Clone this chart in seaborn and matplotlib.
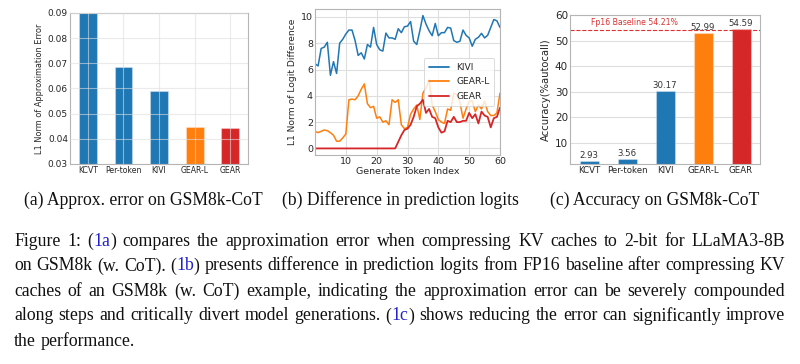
import numpy as np
import pandas as pd
import matplotlib
matplotlib.use("Agg")
import matplotlib.pyplot as plt
import seaborn as sns

# ---------------- data ----------------
methods = ["KCVT", "Per-token", "KIVI", "GEAR-L", "GEAR"]
approx_error = [0.092, 0.0687, 0.0590, 0.0449, 0.0442]
accuracy = [2.93, 3.56, 30.17, 52.99, 54.59]
baseline_acc = 54.21
bar_colors = ["#1f77b4", "#1f77b4", "#1f77b4", "#ff7f0e", "#d62728"]

token_index = list(range(0, 61))
kivi = [6.44, 6.27, 7.6, 7.7, 8.07, 5.56, 6.6, 5.7, 8.0, 8.3,
        8.7, 9.0, 9.0, 8.2, 7.07, 7.27, 6.8, 7.9, 7.7, 9.2,
        7.9, 7.5, 7.4, 8.77, 8.4, 8.4, 8.3, 9.1, 8.8, 9.25,
        9.3, 9.65, 8.15, 7.9, 8.95, 10.1, 9.45, 8.95, 8.57, 9.5,
        8.57, 8.8, 8.8, 9.2, 9.15, 8.2, 8.07, 8.15, 9.0, 8.6,
        8.4, 7.77, 8.3, 8.45, 8.75, 8.4, 8.6, 9.2, 9.8, 9.7, 9.2]
gear_l = [1.3, 1.2, 1.3, 1.4, 1.35, 1.2, 1.0, 0.55, 0.55, 0.8,
          1.1, 3.7, 3.75, 3.7, 4.0, 4.5, 4.9, 3.4, 3.1, 3.2,
          2.3, 2.4, 2.0, 2.1, 1.8, 3.7, 3.5, 3.7, 1.8, 1.5,
          1.6, 2.6, 3.0, 3.3, 2.2, 4.2, 4.6, 5.2, 3.3, 2.8,
          2.2, 2.0, 1.9, 3.0, 2.9, 4.2, 4.1, 3.5, 2.3, 3.0,
          3.6, 3.6, 2.8, 3.3, 3.0, 3.6, 2.8, 2.5, 2.5, 2.7, 4.2]
gear = [0, 0, 0, 0, 0, 0, 0, 0, 0, 0,
        0, 0, 0, 0, 0, 0, 0, 0, 0, 0,
        0, 0, 0, 0, 0, 0, 0, 0.5, 1.0, 1.4,
        1.5, 1.8, 2.4, 3.2, 3.4, 3.7, 2.7, 3.0, 2.4, 2.3,
        1.6, 1.2, 1.3, 2.1, 2.0, 2.4, 2.0, 2.0, 2.1, 2.1,
        2.7, 2.3, 2.6, 1.9, 2.8, 2.5, 2.4, 1.6, 2.3, 2.4, 3.1]
line_names = ["KIVI", "GEAR-L", "GEAR"]
line_colors = ["#1f77b4", "#ff7f0e", "#d62728"]

sub_captions = ["(a) Approx. error on GSM8k-CoT",
                "(b) Difference in prediction logits",
                "(c) Accuracy on GSM8k-CoT"]
caption_lines = [
    "Figure 1: ([1a]) compares the approximation error when compressing KV caches to 2-bit for LLaMA3-8B",
    "on GSM8k (w. CoT). ([1b]) presents difference in prediction logits from FP16 baseline after compressing KV",
    "caches of an GSM8k (w. CoT) example, indicating the approximation error can be severely compounded",
    "along steps and critically divert model generations. ([1c]) shows reducing the error can significantly improve",
    "the performance.",
]

# ---------------- style ----------------
sns.set_style("whitegrid", {"grid.color": "#dedede", "axes.edgecolor": "#b5b5b5",
                            "axes.linewidth": 1.0})
plt.rcParams["font.family"] = ["DejaVu Sans"]

W, H = 800, 364
fig = plt.figure(figsize=(8, 3.64), dpi=100)


def box(l, t, r, b):
    return [l / W, 1 - b / H, (r - l) / W, (b - t) / H]


# ---------------- (a) ----------------
ax1 = fig.add_axes(box(70, 13, 248, 164))
sns.barplot(x=methods, y=approx_error, hue=methods, palette=bar_colors, legend=False,
            width=0.5, saturation=1, ax=ax1, edgecolor=(1, 1, 1, 0.3), linewidth=0.8)
ax1.set_ylim(0.03, 0.09)
ax1.set_xlim(-0.5, 4.5)
ax1.set_yticks([0.03, 0.04, 0.05, 0.06, 0.07, 0.08, 0.09])
ax1.tick_params(axis="y", labelsize=6.5, pad=1.5, length=0)
ax1.tick_params(axis="x", labelsize=5.6, pad=1.5, length=0)
ax1.set_ylabel("L1 Norm of Approximation Error", fontsize=5.9, labelpad=3)
ax1.set_xlabel("")
ax1.set_axisbelow(False)
ax1.grid(True, color="#dedede", alpha=0.6)

# ---------------- (b) ----------------
ax2 = fig.add_axes(box(315, 9, 500, 155))
df = pd.DataFrame({
    "Token": token_index * 3,
    "Value": kivi + gear_l + gear,
    "Method": sum([[n] * len(token_index) for n in line_names], []),
})
sns.lineplot(data=df, x="Token", y="Value", hue="Method", palette=line_colors,
             hue_order=line_names, linewidth=1.1, ax=ax2)
ax2.lines[2].set_linewidth(1.3)
ax2.set_xlim(0, 60)
ax2.set_ylim(-0.5, 10.6)
ax2.set_xticks([10, 20, 30, 40, 50, 60])
ax2.set_yticks([0, 2, 4, 6, 8, 10])
ax2.tick_params(labelsize=6.8, pad=1.5, length=0)
ax2.set_xlabel("Generate Token Index", fontsize=6.8, labelpad=1)
ax2.set_ylabel("L1 Norm of Logit Difference", fontsize=6.6, labelpad=3)
leg = ax2.legend(loc="center right", bbox_to_anchor=(0.97, 0.5), fontsize=6.6,
                 frameon=True, borderaxespad=0, handlelength=2.2, labelspacing=0.6,
                 borderpad=0.55)
leg.get_frame().set_linewidth(0.6)
for h in leg.get_lines():
    h.set_linewidth(1.3)

# ---------------- (c) ----------------
ax3 = fig.add_axes(box(570, 15, 760, 164))
sns.barplot(x=methods, y=accuracy, hue=methods, palette=bar_colors, legend=False,
            width=0.5, saturation=1, ax=ax3, edgecolor=(1, 1, 1, 0.3), linewidth=0.8)
ax3.set_ylim(1.8, 60)
ax3.set_xlim(-0.5, 4.5)
ax3.set_yticks([10, 20, 30, 40, 50, 60])
ax3.tick_params(axis="y", labelsize=7.5, pad=1.5, length=0)
ax3.tick_params(axis="x", labelsize=6.2, pad=1.5, length=0)
ax3.set_ylabel("Accuracy(%autocall)", fontsize=7.2, labelpad=3)
ax3.set_xlabel("")
for i, v in enumerate(accuracy):
    ax3.text(i, v + 0.5, f"{v:.2f}", ha="center", va="bottom", fontsize=6.2, color="#333333")
ax3.axhline(baseline_acc, color="#e03030", linestyle="--", linewidth=0.8)
ax3.text(1.2, baseline_acc + 1.0, f"Fp16 Baseline {baseline_acc:.2f}%", ha="center",
         va="bottom", fontsize=5.6, color="#e03030")

# ---------------- captions ----------------
serif = ["Liberation Serif", "DejaVu Serif"]
fig.canvas.draw()
renderer = fig.canvas.get_renderer()


def width_of(s, size):
    t = fig.text(0, 0, s, fontsize=size, family=serif)
    w = t.get_window_extent(renderer).width
    t.remove()
    return w


# fit sub-caption size to the width of "(a) ..." in the reference (about 243 px)
sub_size = 12 * 240 / width_of(sub_captions[0], 12)
sub_x = [143.5, 400, 654.5]
for txt, cx in zip(sub_captions, sub_x):
    fig.text(cx / W, 1 - 200 / H, txt, ha="center", va="center", fontsize=sub_size,
             family=serif, color="#111111")

# fit caption size so that the widest justified line fits in about 771 px
plain = [l.replace("[", "").replace("]", "") for l in caption_lines[:-1]]
widest = max(width_of(p, 12) for p in plain)
cap_size = 12 * 768 / widest
blue = "#2222cc"


def parse_word(w):
    segs = []
    while w:
        if "[" in w:
            a = w.index("[")
            b = w.index("]")
            if a > 0:
                segs.append((w[:a], "#111111"))
            segs.append((w[a + 1:b], blue))
            w = w[b + 1:]
        else:
            segs.append((w, "#111111"))
            w = ""
    return segs


sw = width_of("a a", cap_size) - width_of("aa", cap_size)
x0, x1 = 14, 785
for li, line in enumerate(caption_lines):
    y = 1 - (241 + 25 * li) / H
    words = [parse_word(w) for w in line.split(" ")]
    objs = []
    widths = []
    for segs in words:
        wobj = []
        ww = 0
        for s, c in segs:
            t = fig.text(0, y, s, ha="left", va="center", fontsize=cap_size,
                         family=serif, color=c)
            wd = t.get_window_extent(renderer).width
            wobj.append((t, wd))
            ww += wd
        objs.append(wobj)
        widths.append(ww)
    last = li == len(caption_lines) - 1
    if last:
        gap = sw
    else:
        gap = (x1 - x0 - sum(widths)) / (len(words) - 1)
    x = x0
    for wobj, ww in zip(objs, widths):
        xx = x
        for t, wd in wobj:
            t.set_x(xx / W)
            xx += wd
        x += ww + gap

fig.savefig("out.png", dpi=100)
